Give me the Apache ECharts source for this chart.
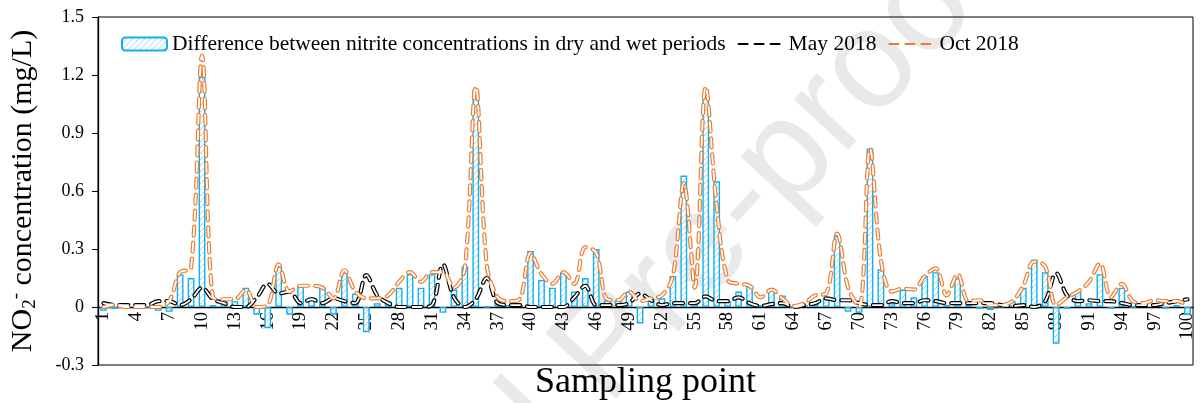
<!DOCTYPE html>
<html>
<head>
<meta charset="utf-8">
<script src="https://cdn.jsdelivr.net/npm/echarts@6/dist/echarts.min.js"></script>
<style>
  html, body { margin: 0; padding: 0; background: #fff; }
  #myChart { width: 1202px; height: 403px; }
</style>
</head>
<body>
<div id="myChart"></div>
<script>
// sampling points 1..100
const points = [];
for (let i = 1; i <= 100; i++) points.push(String(i));

const diffValues = [
  -0.02, -0.01, 0.00, -0.01, 0.00, -0.02, -0.025, 0.17, 0.15, 1.19,
  0.01, 0.03, 0.03, 0.10, -0.04, -0.11, 0.21, -0.04, 0.11, 0.05,
  0.10, -0.04, 0.19, 0.07, -0.13, 0.02, 0.03, 0.10, 0.17, 0.10,
  0.17, -0.03, 0.09, 0.21, 1.12, 0.00, 0.03, 0.01, 0.01, 0.29,
  0.14, 0.10, 0.18, 0.08, 0.15, 0.30, 0.035, 0.035, 0.08, -0.085,
  0.045, 0.045, 0.16, 0.68, 0.02, 1.09, 0.65, 0.03, 0.08, 0.11,
  0.01, 0.09, 0.06, 0.00, 0.01, 0.02, 0.045, 0.37, -0.025, -0.03,
  0.82, 0.195, 0.02, 0.09, 0.05, 0.16, 0.18, 0.01, 0.15, 0.01,
  -0.01, -0.015, 0.00, 0.03, 0.10, 0.245, 0.18, -0.19, -0.01, 0.08,
  0.02, 0.17, -0.01, 0.10, 0.00, 0.01, 0.01, -0.01, 0.01, -0.04
];
const mayValues = [
  0.02, 0.01, 0.01, 0.01, 0.01, 0.03, 0.03, 0.01, 0.04, 0.10,
  0.04, 0.02, 0.00, 0.00, 0.05, 0.12, 0.07, 0.08, 0.02, 0.04,
  0.02, 0.045, 0.03, 0.02, 0.165, 0.06, 0.02, 0.00, 0.00, 0.00,
  0.01, 0.22, 0.05, 0.00, 0.04, 0.15, 0.02, 0.01, 0.01, 0.00,
  0.00, 0.00, 0.00, 0.05, 0.11, 0.01, 0.01, 0.01, 0.02, 0.07,
  0.035, 0.01, 0.02, 0.02, 0.02, 0.055, 0.03, 0.03, 0.05, 0.02,
  0.005, 0.015, 0.02, 0.00, 0.01, 0.02, 0.045, 0.035, 0.035, 0.02,
  0.01, 0.01, 0.03, 0.02, 0.02, 0.035, 0.03, 0.02, 0.02, 0.02,
  0.02, 0.02, 0.01, 0.005, 0.01, 0.00, 0.03, 0.175, 0.06, 0.03,
  0.035, 0.03, 0.03, 0.02, 0.01, 0.01, 0.01, 0.02, 0.03, 0.04
];
const octValues = [
  0.00, 0.01, 0.00, 0.00, 0.00, 0.00, 0.03, 0.18, 0.20, 1.30,
  0.05, 0.04, 0.04, 0.09, 0.00, 0.01, 0.22, 0.08, 0.11, 0.11,
  0.10, 0.045, 0.19, 0.08, 0.045, 0.045, 0.06, 0.13, 0.18, 0.13,
  0.18, 0.18, 0.10, 0.20, 1.14, 0.22, 0.05, 0.03, 0.04, 0.28,
  0.17, 0.12, 0.18, 0.12, 0.31, 0.28, 0.04, 0.035, 0.08, 0.03,
  0.045, 0.06, 0.16, 0.64, 0.10, 1.14, 0.52, 0.14, 0.12, 0.11,
  0.05, 0.09, 0.045, 0.005, 0.02, 0.06, 0.07, 0.38, 0.10, 0.00,
  0.82, 0.24, 0.08, 0.095, 0.09, 0.16, 0.20, 0.06, 0.17, 0.03,
  0.035, 0.01, 0.01, 0.03, 0.11, 0.235, 0.21, 0.01, 0.05, 0.08,
  0.13, 0.225, 0.05, 0.12, 0.03, 0.02, 0.035, 0.03, 0.03, 0.01
];

const yMin = -0.3;
const yMax = 1.5;
const yStep = 0.3;

const diffName = 'Difference between nitrite concentrations in dry and wet periods';
const font = 'Liberation Serif';

// plot box in pixels; the category axis sits on the zero line
const gridTop = 17;
const gridBottom = 38;
const plotHeight = 403 - gridTop - gridBottom;
const zeroOffset = -plotHeight * (0 - yMin) / (yMax - yMin);

// hatched fill for the bars
const pat = document.createElement('canvas');
pat.width = 6;
pat.height = 6;
const pctx = pat.getContext('2d');
pctx.fillStyle = '#ffffff';
pctx.fillRect(0, 0, 6, 6);
pctx.strokeStyle = '#8fd6f4';
pctx.lineWidth = 1;
pctx.beginPath();
pctx.moveTo(0, 6); pctx.lineTo(6, 0);
pctx.moveTo(-3, 3); pctx.lineTo(3, -3);
pctx.moveTo(3, 9); pctx.lineTo(9, 3);
pctx.stroke();

function dashLine(name, data, color, width, showInLegend) {
  return {
    name: name,
    type: 'line',
    data: data,
    smooth: 0.35,
    symbol: 'none',
    z: showInLegend ? 3 : 4,
    color: color,
    lineStyle: {
      color: color,
      width: width,
      type: [9, 7],
      cap: 'round'
    },
    silent: true
  };
}

// watermark direction
const wmAngle = 47 * Math.PI / 180;

const mychart = echarts.init(document.getElementById('myChart'));
const options = {
  animation: false,
  textStyle: { fontFamily: font, color: '#000' },
  graphic: [
    {
      type: 'text',
      x: 240,
      y: 745,
      rotation: wmAngle,
      z: -10,
      silent: true,
      style: {
        text: 'Journal Pre-proof',
        font: '140px "Liberation Sans"',
        fill: '#e9e9e9',
        verticalAlign: 'middle'
      }
    }
  ],
  grid: {
    left: 98,
    right: 9,
    top: gridTop,
    bottom: gridBottom,
    containLabel: false,
    outerBoundsMode: 'none',
    show: true,
    borderColor: '#000',
    borderWidth: 1,
    backgroundColor: 'transparent'
  },
  legend: {
    data: [
      { name: diffName },
      { name: 'May 2018', itemStyle: { opacity: 0 } },
      { name: 'Oct 2018', itemStyle: { opacity: 0 } }
    ],
    left: 116,
    top: 28,
    itemWidth: 45,
    itemHeight: 13,
    itemGap: 12,
    textStyle: { fontFamily: font, fontSize: 21.5, color: '#000' }
  },
  xAxis: {
    type: 'category',
    data: points,
    position: 'bottom',
    offset: zeroOffset,
    name: 'Sampling point',
    nameLocation: 'middle',
    nameGap: 58,
    nameMoveOverlap: false,
    nameTextStyle: { fontFamily: font, fontSize: 36, color: '#000' },
    axisLine: { onZero: false, lineStyle: { color: '#000', width: 1.3 } },
    axisTick: { alignWithLabel: true, interval: 2, length: 5, lineStyle: { color: '#000' } },
    axisLabel: {
      interval: 2,
      rotate: 90,
      margin: 5,
      fontFamily: font,
      fontSize: 18.5,
      color: '#000'
    },
    splitLine: { show: false }
  },
  yAxis: {
    type: 'value',
    min: yMin,
    max: yMax,
    interval: yStep,
    name: '{a|NO}{sub|2}{sup|-}{a| concentration (mg/L)}',
    nameLocation: 'middle',
    nameGap: 58,
    nameMoveOverlap: false,
    nameTextStyle: {
      fontFamily: font,
      fontSize: 30,
      color: '#000',
      rich: {
        a: { fontFamily: font, fontSize: 30, color: '#000' },
        sub: { fontFamily: font, fontSize: 19, color: '#000', verticalAlign: 'bottom', padding: [14, 0, 0, 0] },
        sup: { fontFamily: font, fontSize: 19, color: '#000', verticalAlign: 'top', padding: [0, 0, 14, 0] }
      }
    },
    axisLine: { show: true, lineStyle: { color: '#000', width: 1.3 } },
    axisTick: { show: true, length: 6, lineStyle: { color: '#000' } },
    axisLabel: { fontFamily: font, fontSize: 18, color: '#000', margin: 14 },
    splitLine: { show: false }
  },
  series: [
    {
      name: diffName,
      type: 'bar',
      data: diffValues,
      barWidth: '62%',
      z: 2,
      silent: true,
      itemStyle: {
        color: { image: pat, repeat: 'repeat' },
        borderColor: '#12b0ef',
        borderWidth: 1.4
      }
    },
    dashLine('May 2018', mayValues, '#000000', 4.2, true),
    dashLine('May inner', mayValues, '#ffffff', 1.8, false),
    dashLine('Oct 2018', octValues, '#ed7d31', 4.2, true),
    dashLine('Oct inner', octValues, '#ffffff', 1.8, false)
  ]
};
mychart.setOption(options);
</script>
</body>
</html>
